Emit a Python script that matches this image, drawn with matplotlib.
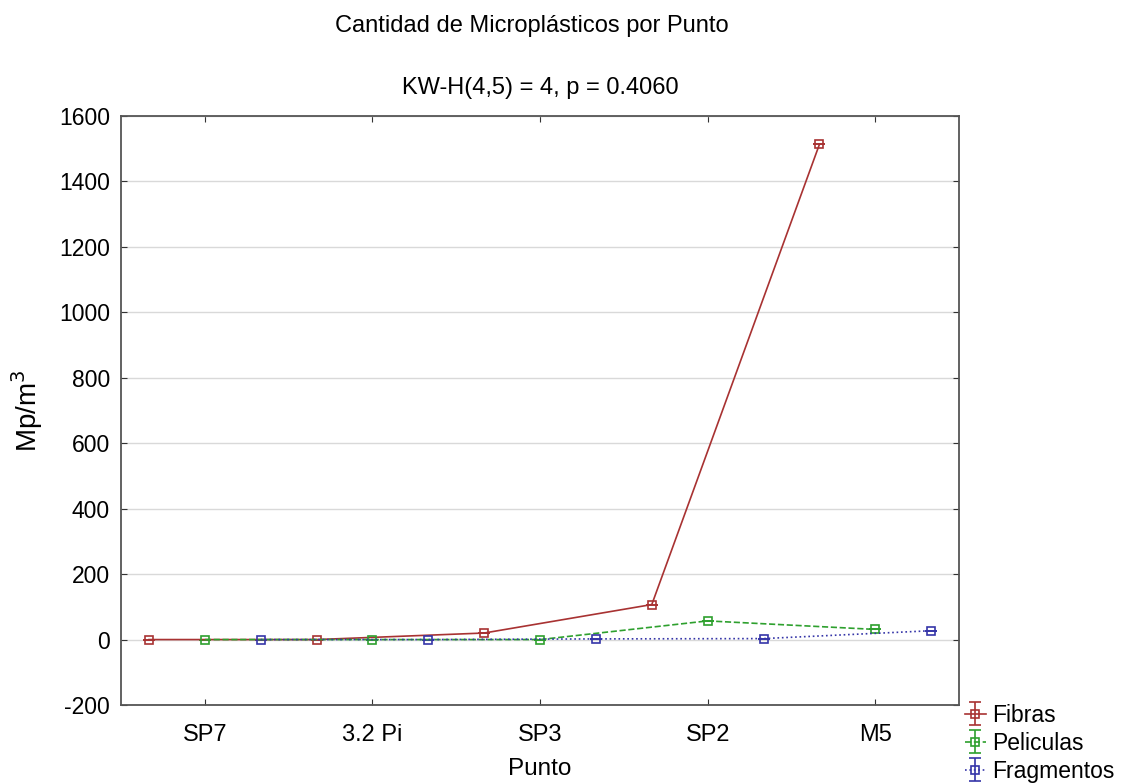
import matplotlib
matplotlib.use("Agg")
import matplotlib.pyplot as plt
import numpy as np

plt.rcParams["font.family"] = ["Liberation Sans", "DejaVu Sans"]
plt.rcParams["axes.unicode_minus"] = False

puntos = ["SP7", "3.2 Pi", "SP3", "SP2", "M5"]
fibras = [0, 0, 20, 107, 1513]
peliculas = [0, 0, 0, 57, 31]
fragmentos = [0, 0, 2, 3, 27]

fig = plt.figure(figsize=(11.27, 7.83), dpi=100)
ax = fig.add_axes([0.1074, 0.0996, 0.7436, 0.7523])

x = np.arange(len(puntos))
series = [
    ("Fibras", fibras, -1 / 3, "#a83232", "-"),
    ("Peliculas", peliculas, 0, "#2ea02e", "--"),
    ("Fragmentos", fragmentos, 1 / 3, "#3535a8", ":"),
]
for name, vals, off, col, ls in series:
    ax.errorbar(x + off, vals, yerr=np.zeros(len(vals)), color=col, ls=ls, lw=1.2,
                marker="s", ms=6, mfc="none", mec=col, mew=1.2, capsize=4,
                elinewidth=1.2, label=name)

ax.set_xlim(-0.5, 4.5)
ax.set_ylim(-200, 1600)
ax.set_yticks(range(-200, 1601, 200))
ax.set_xticks(x)
ax.set_xticklabels(puntos)
ax.yaxis.grid(True, color="#d9d9d9", lw=1)
ax.set_axisbelow(True)
ax.tick_params(axis="both", direction="in", length=4, color="#333333",
               top=True, right=True)
ax.tick_params(axis="x", labelsize=17, pad=14)
ax.tick_params(axis="y", labelsize=16.5, pad=8)
for s in ax.spines.values():
    s.set_color("#555555")
    s.set_linewidth(1.3)

ax.set_xlabel("Punto", fontsize=17.5, labelpad=8)
ax.set_ylabel("Mp/m$^3$", fontsize=20, labelpad=10)
ax.set_title("KW-H(4,5) = 4, p = 0.4060", fontsize=17, pad=16)
fig.text(0.472, 0.967, "Cantidad de Microplásticos por Punto", fontsize=17,
         ha="center", va="center")

ax.legend(loc="upper left", bbox_to_anchor=(0.996, 0.018), frameon=False, fontsize=16.5,
          handlelength=0.9, handletextpad=0.3, labelspacing=0.22, borderaxespad=0)

fig.savefig("out.png", dpi=100)
